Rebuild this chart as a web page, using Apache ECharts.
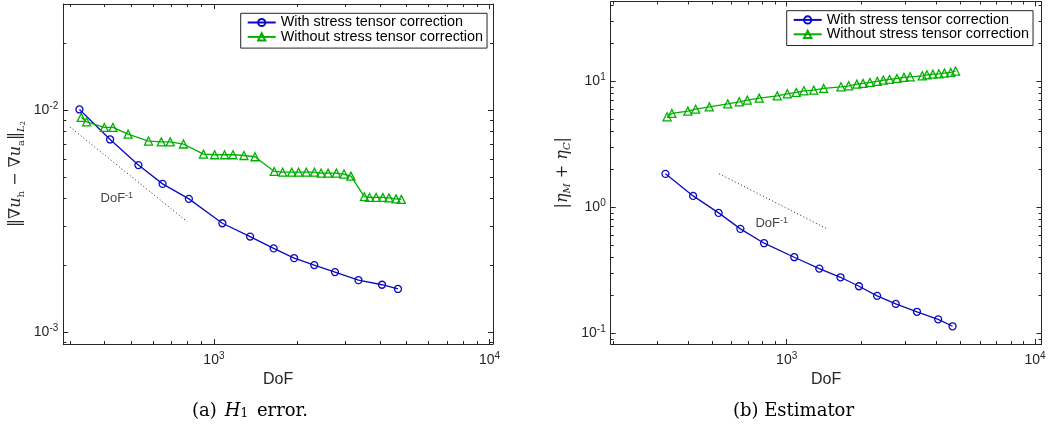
<!DOCTYPE html>
<html><head><meta charset="utf-8">
<script src="https://cdn.jsdelivr.net/npm/echarts@6/dist/echarts.min.js"></script>
<style>html,body{margin:0;padding:0;background:#fff}#c{width:1048px;height:429px}</style>
</head><body><div id="c"></div>
<script>
// ---- data ----
const seriesNames = ['With stress tensor correction', 'Without stress tensor correction'];
const dofWith = [325, 420, 532, 651, 811, 1073, 1353, 1647, 1955, 2313, 2750, 3347, 4074, 4655];
const errWith = [0.01007, 0.00738, 0.00566, 0.00466, 0.00399, 0.00310, 0.00270, 0.00239, 0.00216, 0.00201, 0.00187, 0.00172, 0.00164, 0.00157];
const estWith = [1.838, 1.229, 0.901, 0.673, 0.518, 0.401, 0.326, 0.278, 0.236, 0.198, 0.171, 0.148, 0.129, 0.1136];
const dofWithout = [330, 345, 400, 430, 488, 579, 644, 694, 775, 916, 1006, 1093, 1173, 1285, 1409, 1655, 1776, 1916, 2029, 2165, 2316, 2448, 2596, 2781, 2966, 3142, 3516, 3670, 3879, 4102, 4317, 4579, 4788];
const errWithout = [0.00927, 0.00886, 0.00836, 0.00836, 0.00780, 0.00726, 0.00720, 0.00720, 0.00704, 0.00634, 0.00630, 0.00630, 0.00630, 0.00625, 0.00617, 0.00530, 0.00526, 0.00526, 0.00526, 0.00526, 0.00526, 0.00521, 0.00521, 0.00521, 0.00516, 0.00505, 0.00408, 0.00405, 0.00405, 0.00405, 0.00403, 0.00399, 0.00397];
const estWithout = [5.21, 5.54, 5.78, 5.99, 6.25, 6.60, 6.85, 7.07, 7.33, 7.64, 7.93, 8.13, 8.38, 8.48, 8.75, 9.01, 9.18, 9.47, 9.59, 9.76, 9.95, 10.18, 10.31, 10.50, 10.70, 10.82, 11.02, 11.22, 11.36, 11.43, 11.57, 11.72, 12.01];
const refLeftDof = [300, 800];
const refLeftVal = [0.0084, 0.00315];
const refRightDof = [535, 1450];
const refRightVal = [1.84, 0.675];
const labelLeftPos = [386, 0.00399];
const labelRightPos = [745, 0.737];
const xMajorTicks = [1000, 10000];
const xMinorTicks = [200, 300, 400, 500, 600, 700, 800, 900, 2000, 3000, 4000, 5000, 6000, 7000, 8000, 9000];
const yLeftMajor = [0.001, 0.01];
const yLeftMinor = [0.0009, 0.002, 0.003, 0.004, 0.005, 0.006, 0.007, 0.008, 0.009, 0.02, 0.03];
const yRightMajor = [0.1, 1, 10];
const yRightMinor = [0.09, 0.2, 0.3, 0.4, 0.5, 0.6, 0.7, 0.8, 0.9, 2, 3, 4, 5, 6, 7, 8, 9, 20, 30, 40];
const captionA = '{n|(a)}{i|H}{s|1}{n| error.}';
const captionB = '{n|(b) Estimator}';
const yNameLeft = '{n|‖∇}{i|u}{sb|h}{n| − ∇}{i|u}{sb|a}{n|‖}{si|L}{ss|2}';
const yNameRight = '{n||}{i|η}{si|M}{n| + }{i|η}{si|C}{n||}';

// ---- style ----
const AX = '#262626';
const BLUE = '#0a0ac0';
const GREEN = '#00b000';
const SANS = 'Liberation Sans';
const SERIF = 'DejaVu Serif';

function powLabel(v) {
  const e = Math.round(Math.log10(v));
  return '{b|10}{s|' + e + '}';
}
const tickRich = {
  b: { fontFamily: SANS, fontSize: 14, color: AX, lineHeight: 18, verticalAlign: 'middle' },
  s: { fontFamily: SANS, fontSize: 10, color: AX, lineHeight: 12, verticalAlign: 'top' }
};
const nameRich = {
  n: { fontFamily: SERIF, fontSize: 16, color: AX, lineHeight: 20, verticalAlign: 'middle' },
  i: { fontFamily: SERIF, fontStyle: 'italic', fontSize: 16, color: AX, lineHeight: 20, verticalAlign: 'middle' },
  sb: { fontFamily: SERIF, fontSize: 10, color: AX, lineHeight: 11, verticalAlign: 'bottom' },
  si: { fontFamily: SERIF, fontStyle: 'italic', fontSize: 10, color: AX, lineHeight: 11, verticalAlign: 'bottom' },
  ss: { fontFamily: SERIF, fontSize: 7, color: AX, lineHeight: 14, verticalAlign: 'bottom' }
};

function axesSet(kind, gi, min, max, major, minor, labelled, name, nameGap) {
  const isX = kind === 'x';
  const pos = isX ? ['bottom', 'top'] : ['left', 'right'];
  const base = {
    type: 'log', logBase: 10, gridIndex: gi, min: min, max: max, silent: true,
    splitLine: { show: false }, axisLabel: { show: false },
    axisLine: { show: false }, axisTick: { show: false }
  };
  const line = { show: true, onZero: false, lineStyle: { color: AX, width: 1 } };
  const out = [];
  pos.forEach(function (p, k) {
    const main = Object.assign({}, base, {
      position: p,
      axisLine: line,
      axisTick: { show: true, inside: true, length: 5, customValues: major, lineStyle: { color: AX, width: 1 } }
    });
    if (k === 0) {
      main.axisLabel = { show: true, customValues: major, formatter: powLabel, rich: tickRich, margin: isX ? 7 : 5 };
      main.name = name;
      main.nameLocation = 'middle';
      main.nameGap = nameGap;
      if (isX) {
        main.nameTextStyle = { fontFamily: SANS, fontSize: 16, color: AX };
      } else {
        main.nameRotate = 90;
        main.nameTextStyle = { rich: nameRich };
      }
    }
    out.push(main);
    out.push(Object.assign({}, base, {
      position: p,
      axisTick: { show: true, inside: true, length: 3, customValues: minor, lineStyle: { color: AX, width: 1 } }
    }));
  });
  return out;
}

function zip(xs, ys) { return xs.map(function (x, i) { return [x, ys[i]]; }); }

function dataSeries(name, axIdx, xs, ys, color, symbol, size) {
  return {
    type: 'line', name: name, xAxisIndex: axIdx, yAxisIndex: axIdx,
    data: zip(xs, ys), symbol: symbol, symbolSize: size, showSymbol: true, showAllSymbol: true,
    color: color, lineStyle: { color: color, width: 1.3 },
    itemStyle: { color: 'rgba(255,255,255,0)', borderColor: color, borderWidth: 1.3 },
    emphasis: { disabled: true }, z: 3
  };
}
function refSeries(axIdx, xs, ys) {
  return {
    type: 'line', xAxisIndex: axIdx, yAxisIndex: axIdx, data: zip(xs, ys), symbol: 'none', silent: true,
    lineStyle: { color: '#222', width: 1, type: [1, 2.5] }, z: 2
  };
}
function labelSeries(axIdx, pos) {
  return {
    type: 'scatter', xAxisIndex: axIdx, yAxisIndex: axIdx, data: [pos], symbolSize: 1, silent: true,
    itemStyle: { color: 'rgba(0,0,0,0)' },
    label: {
      show: true, position: 'right', distance: 0, formatter: '{b|DoF}{s|-1}',
      rich: {
        b: { fontFamily: SANS, fontSize: 13, color: '#111', lineHeight: 16, verticalAlign: 'middle' },
        s: { fontFamily: SANS, fontSize: 9, color: '#111', lineHeight: 10, verticalAlign: 'top' }
      }
    }
  };
}
function legendAt(left, top) {
  return {
    orient: 'vertical', left: left, top: top, data: seriesNames, selectedMode: false,
    padding: [2, 4, 4, 6], itemGap: 0, itemWidth: 28, itemHeight: 9,
    borderColor: AX, borderWidth: 1, backgroundColor: '#fff', borderRadius: 0,
    textStyle: { fontFamily: SANS, fontSize: 14.4, color: '#000', lineHeight: 14.4 }
  };
}

const xAxes = [].concat(
  axesSet('x', 0, 284, 10300, xMajorTicks, xMinorTicks, true, 'DoF', 27),
  axesSet('x', 1, 195.6, 10620, xMajorTicks, xMinorTicks, true, 'DoF', 27)
);
const yAxes = [].concat(
  axesSet('y', 0, 0.000888, 0.03, yLeftMajor, yLeftMinor, true, yNameLeft, 37),
  axesSet('y', 1, 0.0822, 42.8, yRightMajor, yRightMinor, true, yNameRight, 38)
);

const capRich = {
  n: { fontFamily: SERIF, fontSize: 18, fill: '#000' },
  i: { fontFamily: SERIF, fontStyle: 'italic', fontSize: 18, fill: '#000', padding: [0, 0, 0, 8] },
  s: { fontFamily: SERIF, fontSize: 12, fill: '#000', verticalAlign: 'bottom', padding: [0, 3, 0, 0] }
};

const option = {
  animation: false,
  backgroundColor: '#fff',
  textStyle: { fontFamily: SANS },
  grid: [
    { left: 63.3, top: 4, width: 429.7, height: 340, containLabel: false, outerBoundsMode: 'none' },
    { left: 610.7, top: 1.5, width: 430.8, height: 342.5, containLabel: false, outerBoundsMode: 'none' }
  ],
  xAxis: xAxes,
  yAxis: yAxes,
  legend: [legendAt(240.7, 13.3), legendAt(786.7, 10.7)],
  tooltip: { show: false },
  series: [
    refSeries(0, refLeftDof, refLeftVal),
    labelSeries(0, labelLeftPos),
    dataSeries(seriesNames[0], 0, dofWith, errWith, BLUE, 'circle', 7),
    dataSeries(seriesNames[1], 0, dofWithout, errWithout, GREEN, 'triangle', 8),
    refSeries(4, refRightDof, refRightVal),
    labelSeries(4, labelRightPos),
    dataSeries(seriesNames[0], 4, dofWith, estWith, BLUE, 'circle', 7),
    dataSeries(seriesNames[1], 4, dofWithout, estWithout, GREEN, 'triangle', 8)
  ],
  graphic: [
    { type: 'text', x: 250, y: 411, style: { text: captionA, align: 'center', verticalAlign: 'middle', fill: '#000', font: '18px "DejaVu Serif"', rich: capRich } },
    { type: 'text', x: 793.5, y: 411, style: { text: captionB, align: 'center', verticalAlign: 'middle', fill: '#000', font: '18px "DejaVu Serif"', rich: capRich } }
  ]
};
const chart = echarts.init(document.getElementById('c'), null, { renderer: 'canvas' });
chart.setOption(option);
</script>
</body></html>
